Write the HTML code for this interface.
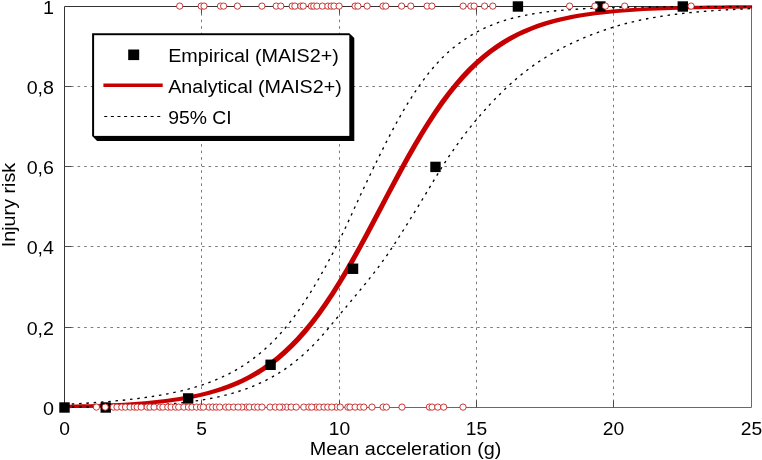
<!DOCTYPE html>
<html><head><meta charset="utf-8"><title>Injury risk</title>
<style>html,body{margin:0;padding:0;background:#fff}svg{display:block}text{font-family:"Liberation Sans",sans-serif;fill:#000}</style></head><body>
<svg width="762" height="460" viewBox="0 0 762 460">
<rect width="762" height="460" fill="#fff"/>
<g stroke="#333" stroke-width="0.65" stroke-dasharray="2.6 3.95" fill="none">
<line x1="201.50" y1="6.50" x2="201.50" y2="407.50"/>
<line x1="339.50" y1="6.50" x2="339.50" y2="407.50"/>
<line x1="476.50" y1="6.50" x2="476.50" y2="407.50"/>
<line x1="613.50" y1="6.50" x2="613.50" y2="407.50"/>
<line x1="64.50" y1="327.50" x2="751.50" y2="327.50"/>
<line x1="64.50" y1="246.50" x2="751.50" y2="246.50"/>
<line x1="64.50" y1="166.50" x2="751.50" y2="166.50"/>
<line x1="64.50" y1="86.50" x2="751.50" y2="86.50"/>
</g>
<g stroke="#4a4a4a" stroke-width="1" fill="none">
<path stroke="#6a6a6a" d="M751.50 6.50V407.50H64.50"/>
<path stroke="#333" d="M64.50 407.50V6.50H751.50"/>
<path d="M201.50 6.50v7 M201.50 407.50v-7"/>
<path d="M339.50 6.50v7 M339.50 407.50v-7"/>
<path d="M476.50 6.50v7 M476.50 407.50v-7"/>
<path d="M613.50 6.50v7 M613.50 407.50v-7"/>
<path d="M64.50 327.50h7 M751.50 327.50h-7"/>
<path d="M64.50 246.50h7 M751.50 246.50h-7"/>
<path d="M64.50 166.50h7 M751.50 166.50h-7"/>
<path d="M64.50 86.50h7 M751.50 86.50h-7"/>
</g>
<clipPath id="cp"><rect x="58.5" y="0" width="693.6" height="460"/></clipPath>
<polygon clip-path="url(#cp)" fill="#c60000" points="62.60,408.22 62.60,404.82 69.47,404.68 76.34,404.53 83.21,404.35 90.08,404.15 96.95,403.92 103.82,403.66 110.69,403.37 117.56,403.03 124.43,402.65 131.30,402.22 138.17,401.72 145.04,401.16 151.91,400.52 158.78,399.80 165.65,398.98 172.52,398.04 179.39,396.99 186.26,395.79 193.13,394.44 200.00,392.91 206.87,391.18 213.74,389.22 220.61,387.02 227.48,384.55 234.35,381.76 241.22,378.64 248.09,375.15 254.96,371.25 261.83,366.91 268.70,362.08 275.57,356.74 282.44,350.84 289.31,344.36 296.18,337.27 303.05,329.54 309.92,321.16 316.79,312.13 323.66,302.45 330.53,292.13 337.40,281.22 344.27,269.76 351.14,257.81 358.01,245.44 364.88,232.75 371.75,219.82 378.62,206.78 385.49,193.72 392.36,180.76 399.23,168.01 406.10,155.56 412.97,143.50 419.84,131.93 426.71,120.88 433.58,110.43 440.45,100.61 447.32,91.42 454.19,82.90 461.06,75.02 467.93,67.79 474.80,61.17 481.67,55.15 488.54,49.68 495.41,44.74 502.28,40.29 509.15,36.29 516.02,32.71 522.89,29.51 529.76,26.65 536.63,24.11 543.50,21.85 550.37,19.85 557.24,18.07 564.11,16.49 570.98,15.10 577.85,13.87 584.72,12.78 591.59,11.82 598.46,10.98 605.33,10.23 612.20,9.58 619.07,9.00 625.94,8.49 632.81,8.04 639.68,7.65 646.55,7.30 653.42,7.00 660.29,6.73 667.16,6.50 674.03,6.29 680.90,6.11 687.77,5.95 694.64,5.81 701.51,5.69 708.38,5.58 715.25,5.48 722.12,5.40 728.99,5.33 735.86,5.26 742.73,5.21 749.60,5.16 753.40,5.16 753.40,8.56 746.53,8.61 739.66,8.66 732.79,8.73 725.92,8.80 719.05,8.88 712.18,8.98 705.31,9.09 698.44,9.21 691.57,9.35 684.70,9.51 677.83,9.69 670.96,9.90 664.09,10.13 657.22,10.40 650.35,10.70 643.48,11.05 636.61,11.44 629.74,11.89 622.87,12.40 616.00,12.98 609.13,13.63 602.26,14.38 595.39,15.22 588.52,16.18 581.65,17.27 574.78,18.50 567.91,19.89 561.04,21.47 554.17,23.25 547.30,25.25 540.43,27.51 533.56,30.05 526.69,32.91 519.82,36.11 512.95,39.69 506.08,43.69 499.21,48.14 492.34,53.08 485.47,58.55 478.60,64.57 471.73,71.19 464.86,78.42 457.99,86.30 451.12,94.82 444.25,104.01 437.38,113.83 430.51,124.28 423.64,135.33 416.77,146.90 409.90,158.96 403.03,171.41 396.16,184.16 389.29,197.12 382.42,210.18 375.55,223.22 368.68,236.15 361.81,248.84 354.94,261.21 348.07,273.16 341.20,284.62 334.33,295.53 327.46,305.85 320.59,315.53 313.72,324.56 306.85,332.94 299.98,340.67 293.11,347.76 286.24,354.24 279.37,360.14 272.50,365.48 265.63,370.31 258.76,374.65 251.89,378.55 245.02,382.04 238.15,385.16 231.28,387.95 224.41,390.42 217.54,392.62 210.67,394.58 203.80,396.31 196.93,397.84 190.06,399.19 183.19,400.39 176.32,401.44 169.45,402.38 162.58,403.20 155.71,403.92 148.84,404.56 141.97,405.12 135.10,405.62 128.23,406.05 121.36,406.43 114.49,406.77 107.62,407.06 100.75,407.32 93.88,407.55 87.01,407.75 80.14,407.93 73.27,408.08 66.40,408.22"/>
<path d="M64.50 404.40 L71.37 404.07 L78.24 403.70 L85.11 403.29 L91.98 402.84 L98.85 402.35 L105.72 401.81 L112.59 401.21 L119.46 400.56 L126.33 399.85 L133.20 399.07 L140.07 398.22 L146.94 397.29 L153.81 396.26 L160.68 395.11 L167.55 393.84 L174.42 392.43 L181.29 390.88 L188.16 389.15 L195.03 387.22 L201.90 385.04 L208.77 382.61 L215.64 379.92 L222.51 376.93 L229.38 373.61 L236.25 369.90 L243.12 365.74 L249.99 361.07 L256.86 355.87 L263.73 350.17 L270.60 343.88 L277.47 336.92 L284.34 329.18 L291.21 320.61 L298.08 311.28 L304.95 301.19 L311.82 290.35 L318.69 278.81 L325.56 266.62 L332.43 253.87 L339.30 240.54 L346.17 226.22 L353.04 211.28 L359.91 196.29 L366.78 181.76 L373.65 167.57 L380.52 153.53 L387.39 139.91 L394.26 126.85 L401.13 114.48 L408.00 102.89 L414.87 92.14 L421.74 82.27 L428.61 73.18 L435.48 64.96 L442.35 57.65 L449.22 51.22 L456.09 45.56 L462.96 40.52 L469.83 36.02 L476.70 32.05 L483.57 28.55 L490.44 25.50 L497.31 22.84 L504.18 20.54 L511.05 18.55 L517.92 16.82 L524.79 15.33 L531.66 14.04 L538.53 12.94 L545.40 11.99 L552.27 11.18 L559.14 10.49 L566.01 9.90 L572.88 9.39 L579.75 8.96 L586.62 8.60 L593.49 8.29 L600.36 8.02 L607.23 7.80 L614.10 7.61 L620.97 7.45 L627.84 7.31 L634.71 7.19 L641.58 7.09 L648.45 7.00 L655.32 6.93 L662.19 6.87 L669.06 6.81 L675.93 6.77 L682.80 6.73 L689.67 6.70 L696.54 6.67 L703.41 6.64 L710.28 6.62 L717.15 6.60 L724.02 6.59 L730.89 6.58 L737.76 6.57 L744.63 6.56 L751.50 6.55" fill="none" stroke="#000" stroke-width="1.35" stroke-dasharray="2.5 4.8"/>
<path d="M64.50 407.19 L71.37 407.14 L78.24 407.08 L85.11 407.01 L91.98 406.92 L98.85 406.83 L105.72 406.71 L112.59 406.57 L119.46 406.41 L126.33 406.23 L133.20 406.01 L140.07 405.75 L146.94 405.44 L153.81 405.08 L160.68 404.66 L167.55 404.15 L174.42 403.54 L181.29 402.82 L188.16 401.98 L195.03 401.02 L201.90 399.96 L208.77 398.78 L215.64 397.43 L222.51 395.90 L229.38 394.16 L236.25 392.19 L243.12 389.96 L249.99 387.45 L256.86 384.63 L263.73 381.46 L270.60 377.93 L277.47 373.99 L284.34 369.57 L291.21 364.66 L298.08 359.21 L304.95 353.20 L311.82 346.61 L318.69 339.44 L325.56 331.67 L332.43 323.40 L339.30 315.10 L346.17 306.85 L353.04 298.63 L359.91 290.36 L366.78 281.96 L373.65 273.30 L380.52 264.25 L387.39 254.65 L394.26 244.36 L401.13 233.67 L408.00 222.78 L414.87 211.70 L421.74 200.49 L428.61 189.18 L435.48 177.70 L442.35 166.50 L449.22 155.98 L456.09 146.04 L462.96 136.65 L469.83 127.77 L476.70 119.37 L483.57 111.41 L490.44 103.87 L497.31 96.70 L504.18 89.88 L511.05 83.41 L517.92 77.40 L524.79 71.84 L531.66 66.70 L538.53 61.93 L545.40 57.51 L552.27 53.40 L559.14 49.57 L566.01 46.01 L572.88 42.68 L579.75 39.58 L586.62 36.69 L593.49 33.98 L600.36 31.46 L607.23 29.10 L614.10 26.90 L620.97 24.88 L627.84 23.05 L634.71 21.39 L641.58 19.88 L648.45 18.52 L655.32 17.29 L662.19 16.17 L669.06 15.16 L675.93 14.26 L682.80 13.44 L689.67 12.70 L696.54 12.03 L703.41 11.43 L710.28 10.89 L717.15 10.41 L724.02 9.98 L730.89 9.59 L737.76 9.24 L744.63 8.92 L751.50 8.64" fill="none" stroke="#000" stroke-width="1.35" stroke-dasharray="2.5 4.8"/>
<g fill="#000">
<rect x="59.30" y="402.30" width="10.4" height="10.4"/>
<rect x="100.52" y="402.30" width="10.4" height="10.4"/>
<rect x="182.96" y="393.24" width="10.4" height="10.4"/>
<rect x="265.40" y="359.59" width="10.4" height="10.4"/>
<rect x="347.84" y="263.55" width="10.4" height="10.4"/>
<rect x="430.28" y="161.70" width="10.4" height="10.4"/>
<rect x="512.72" y="1.30" width="10.4" height="10.4"/>
<rect x="595.16" y="1.30" width="10.4" height="10.4"/>
<rect x="677.60" y="1.30" width="10.4" height="10.4"/>
</g>
<g fill="#fff" stroke="#c42222" stroke-width="0.9">
<circle cx="179.7" cy="6.1" r="3.15"/>
<circle cx="201.2" cy="6.1" r="3.15"/>
<circle cx="204.0" cy="6.1" r="3.15"/>
<circle cx="220.5" cy="6.1" r="3.15"/>
<circle cx="223.6" cy="6.1" r="3.15"/>
<circle cx="237.4" cy="6.1" r="3.15"/>
<circle cx="261.9" cy="6.1" r="3.15"/>
<circle cx="276.2" cy="6.1" r="3.15"/>
<circle cx="280.8" cy="6.1" r="3.15"/>
<circle cx="292.2" cy="6.1" r="3.15"/>
<circle cx="294.9" cy="6.1" r="3.15"/>
<circle cx="300.8" cy="6.1" r="3.15"/>
<circle cx="303.2" cy="6.1" r="3.15"/>
<circle cx="311.4" cy="6.1" r="3.15"/>
<circle cx="313.8" cy="6.1" r="3.15"/>
<circle cx="316.9" cy="6.1" r="3.15"/>
<circle cx="322.4" cy="6.1" r="3.15"/>
<circle cx="327.9" cy="6.1" r="3.15"/>
<circle cx="331.2" cy="6.1" r="3.15"/>
<circle cx="334.0" cy="6.1" r="3.15"/>
<circle cx="339.1" cy="6.1" r="3.15"/>
<circle cx="355.1" cy="6.1" r="3.15"/>
<circle cx="357.9" cy="6.1" r="3.15"/>
<circle cx="367.1" cy="6.1" r="3.15"/>
<circle cx="383.0" cy="6.1" r="3.15"/>
<circle cx="385.8" cy="6.1" r="3.15"/>
<circle cx="401.6" cy="6.1" r="3.15"/>
<circle cx="410.8" cy="6.1" r="3.15"/>
<circle cx="427.1" cy="6.1" r="3.15"/>
<circle cx="431.9" cy="6.1" r="3.15"/>
<circle cx="463.1" cy="6.1" r="3.15"/>
<circle cx="470.8" cy="6.1" r="3.15"/>
<circle cx="474.1" cy="6.1" r="3.15"/>
<circle cx="484.6" cy="6.1" r="3.15"/>
<circle cx="492.8" cy="6.1" r="3.15"/>
<circle cx="569.6" cy="6.1" r="3.15"/>
<circle cx="594.9" cy="6.1" r="3.15"/>
<circle cx="605.4" cy="6.1" r="3.15"/>
<circle cx="624.7" cy="6.1" r="3.15"/>
<circle cx="691.1" cy="6.1" r="3.15"/>
<circle cx="96.4" cy="407.1" r="3.15"/>
<circle cx="105.2" cy="407.1" r="3.15"/>
<circle cx="113.4" cy="407.1" r="3.15"/>
<circle cx="117.0" cy="407.1" r="3.15"/>
<circle cx="121.8" cy="407.1" r="3.15"/>
<circle cx="125.5" cy="407.1" r="3.15"/>
<circle cx="130.1" cy="407.1" r="3.15"/>
<circle cx="134.3" cy="407.1" r="3.15"/>
<circle cx="137.2" cy="407.1" r="3.15"/>
<circle cx="141.2" cy="407.1" r="3.15"/>
<circle cx="147.2" cy="407.1" r="3.15"/>
<circle cx="150.0" cy="407.1" r="3.15"/>
<circle cx="154.1" cy="407.1" r="3.15"/>
<circle cx="159.9" cy="407.1" r="3.15"/>
<circle cx="162.9" cy="407.1" r="3.15"/>
<circle cx="167.8" cy="407.1" r="3.15"/>
<circle cx="171.1" cy="407.1" r="3.15"/>
<circle cx="175.6" cy="407.1" r="3.15"/>
<circle cx="178.7" cy="407.1" r="3.15"/>
<circle cx="183.9" cy="407.1" r="3.15"/>
<circle cx="188.5" cy="407.1" r="3.15"/>
<circle cx="191.9" cy="407.1" r="3.15"/>
<circle cx="196.5" cy="407.1" r="3.15"/>
<circle cx="208.9" cy="407.1" r="3.15"/>
<circle cx="200.5" cy="407.1" r="3.15"/>
<circle cx="203.3" cy="407.1" r="3.15"/>
<circle cx="212.7" cy="407.1" r="3.15"/>
<circle cx="216.2" cy="407.1" r="3.15"/>
<circle cx="219.7" cy="407.1" r="3.15"/>
<circle cx="225.7" cy="407.1" r="3.15"/>
<circle cx="228.9" cy="407.1" r="3.15"/>
<circle cx="233.6" cy="407.1" r="3.15"/>
<circle cx="246.4" cy="407.1" r="3.15"/>
<circle cx="241.8" cy="407.1" r="3.15"/>
<circle cx="238.1" cy="407.1" r="3.15"/>
<circle cx="249.4" cy="407.1" r="3.15"/>
<circle cx="254.4" cy="407.1" r="3.15"/>
<circle cx="257.8" cy="407.1" r="3.15"/>
<circle cx="262.0" cy="407.1" r="3.15"/>
<circle cx="270.0" cy="407.1" r="3.15"/>
<circle cx="275.3" cy="407.1" r="3.15"/>
<circle cx="286.7" cy="407.1" r="3.15"/>
<circle cx="282.2" cy="407.1" r="3.15"/>
<circle cx="279.6" cy="407.1" r="3.15"/>
<circle cx="291.2" cy="407.1" r="3.15"/>
<circle cx="296.2" cy="407.1" r="3.15"/>
<circle cx="303.8" cy="407.1" r="3.15"/>
<circle cx="308.9" cy="407.1" r="3.15"/>
<circle cx="316.2" cy="407.1" r="3.15"/>
<circle cx="311.7" cy="407.1" r="3.15"/>
<circle cx="319.5" cy="407.1" r="3.15"/>
<circle cx="324.0" cy="407.1" r="3.15"/>
<circle cx="327.8" cy="407.1" r="3.15"/>
<circle cx="336.3" cy="407.1" r="3.15"/>
<circle cx="331.8" cy="407.1" r="3.15"/>
<circle cx="340.2" cy="407.1" r="3.15"/>
<circle cx="347.9" cy="407.1" r="3.15"/>
<circle cx="350.0" cy="407.1" r="3.15"/>
<circle cx="355.1" cy="407.1" r="3.15"/>
<circle cx="360.1" cy="407.1" r="3.15"/>
<circle cx="363.8" cy="407.1" r="3.15"/>
<circle cx="372.0" cy="407.1" r="3.15"/>
<circle cx="383.1" cy="407.1" r="3.15"/>
<circle cx="386.4" cy="407.1" r="3.15"/>
<circle cx="402.0" cy="407.1" r="3.15"/>
<circle cx="429.4" cy="407.1" r="3.15"/>
<circle cx="432.1" cy="407.1" r="3.15"/>
<circle cx="437.8" cy="407.1" r="3.15"/>
<circle cx="443.7" cy="407.1" r="3.15"/>
<circle cx="463.0" cy="407.1" r="3.15"/>
</g>
<text x="64.50" y="434.90" font-size="19.2" text-anchor="middle" textLength="10.7" lengthAdjust="spacingAndGlyphs">0</text>
<text x="201.50" y="434.90" font-size="19.2" text-anchor="middle" textLength="10.7" lengthAdjust="spacingAndGlyphs">5</text>
<text x="339.50" y="434.90" font-size="19.2" text-anchor="middle" textLength="21.4" lengthAdjust="spacingAndGlyphs">10</text>
<text x="476.50" y="434.90" font-size="19.2" text-anchor="middle" textLength="21.4" lengthAdjust="spacingAndGlyphs">15</text>
<text x="613.50" y="434.90" font-size="19.2" text-anchor="middle" textLength="21.4" lengthAdjust="spacingAndGlyphs">20</text>
<text x="751.50" y="434.90" font-size="19.2" text-anchor="middle" textLength="21.4" lengthAdjust="spacingAndGlyphs">25</text>
<text x="54.00" y="414.90" font-size="19.2" text-anchor="end" textLength="11.0" lengthAdjust="spacingAndGlyphs">0</text>
<text x="54.00" y="334.90" font-size="19.2" text-anchor="end" textLength="27.3" lengthAdjust="spacingAndGlyphs">0,2</text>
<text x="54.00" y="253.90" font-size="19.2" text-anchor="end" textLength="27.3" lengthAdjust="spacingAndGlyphs">0,4</text>
<text x="54.00" y="173.90" font-size="19.2" text-anchor="end" textLength="27.3" lengthAdjust="spacingAndGlyphs">0,6</text>
<text x="54.00" y="93.90" font-size="19.2" text-anchor="end" textLength="27.3" lengthAdjust="spacingAndGlyphs">0,8</text>
<text x="54.00" y="13.90" font-size="19.2" text-anchor="end" textLength="11.0" lengthAdjust="spacingAndGlyphs">1</text>
<text x="405.60" y="455.20" font-size="19.2" text-anchor="middle" textLength="191.5" lengthAdjust="spacingAndGlyphs">Mean acceleration (g)</text>
<text transform="translate(14.8 205) rotate(-90)" font-size="18.8" text-anchor="middle" textLength="84.5" lengthAdjust="spacingAndGlyphs">Injury risk</text>
<polygon fill="#000" points="92.1,33.2 349.4,33.2 354.3,38.1 354.3,140.9 97.1,140.9 92.1,135.9"/>
<rect x="94.1" y="35.2" width="255.2" height="100.7" fill="#fff"/>
<rect x="128.2" y="49.5" width="11" height="10.6" fill="#000"/>
<line x1="103.4" y1="85.3" x2="162.7" y2="85.3" stroke="#c60000" stroke-width="3.4"/>
<line x1="104.2" y1="116.5" x2="161" y2="116.5" stroke="#000" stroke-width="1.15" stroke-dasharray="3.0 3.63"/>
<text x="168.20" y="61.80" font-size="19.2" text-anchor="start" textLength="170.7" lengthAdjust="spacingAndGlyphs">Empirical (MAIS2+)</text>
<text x="168.20" y="92.70" font-size="19.2" text-anchor="start" textLength="173.6" lengthAdjust="spacingAndGlyphs">Analytical (MAIS2+)</text>
<text x="168.20" y="124.20" font-size="19.2" text-anchor="start" textLength="63.5" lengthAdjust="spacingAndGlyphs">95% CI</text>
</svg></body></html>
